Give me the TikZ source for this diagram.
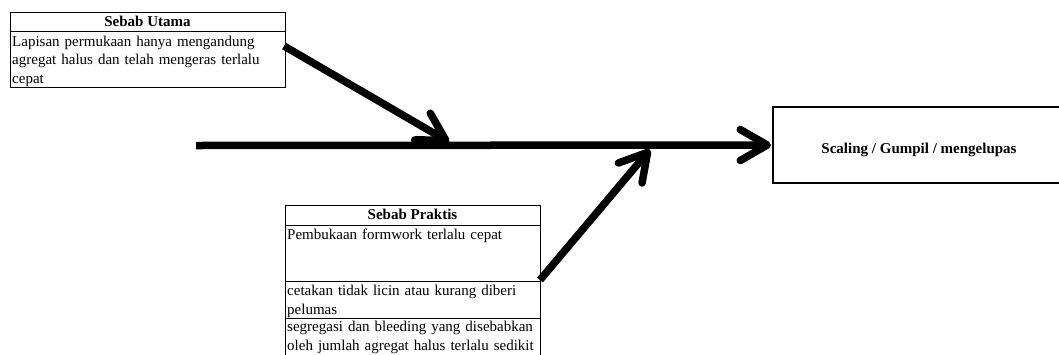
\documentclass[tikz,border=0pt]{standalone}
\usepackage{fontspec}
\setmainfont{Liberation Serif}
\usetikzlibrary{arrows.meta}
\begin{document}
\begin{tikzpicture}[x=1pt,y=-1pt,
  cell/.style={draw, line width=0.9pt, rectangle, anchor=north west, inner sep=0pt, outer sep=0pt},
  txt/.style={anchor=base west, inner sep=0pt, align=left, text width=250pt, font=\fontsize{15}{18.4}\selectfont},
  head/.style={anchor=base, inner sep=0pt, font=\fontsize{15}{18.4}\selectfont\bfseries},
  bone/.style={line width=7.5pt, -{Straight Barb[length=27pt,width=31pt,round]}},
]
\useasboundingbox (0,0) rectangle (1059,354);
\clip (0,0) rectangle (1059,354);

% Sebab Utama
\node[cell, minimum width=275pt, minimum height=19pt] (uh) at (10,12) {};
\node[cell, minimum width=275pt, minimum height=56pt] (ub) at (10,31) {};
\node[head] (uht) at (147.5,26.7) {Sebab Utama};
\node[txt] (ubt) at (12,46.5) {Lapisan permukaan hanya mengandung\\agregat halus dan telah mengeras terlalu\\cepat};

% Sebab Praktis
\node[cell, minimum width=255pt, minimum height=20pt] (ph) at (285,205) {};
\node[cell, minimum width=255pt, minimum height=56pt] (p1) at (285,225) {};
\node[cell, minimum width=255pt, minimum height=37pt] (p2) at (285,281) {};
\node[cell, minimum width=255pt, minimum height=60pt] (p3) at (285,318) {};
\node[head] (pht) at (412.5,219) {Sebab Praktis};
\node[txt] (p1t) at (287,239.3) {Pembukaan formwork terlalu cepat};
\node[txt] (p2t) at (287,295.7) {cetakan tidak licin atau kurang diberi\\pelumas};
\node[txt] (p3t) at (287,331.7) {segregasi dan bleeding yang disebabkan\\oleh jumlah agregat halus terlalu sedikit};

% Akibat
\node[cell, line width=1.6pt, minimum width=293pt, minimum height=76pt] (cons) at (773,107) {};
\node[head] (const) at (919,153) {Scaling / Gumpil / mengelupas};

% Tulang ikan
\coordinate (tail) at (196,145.5);
\draw[bone, line cap=butt, shorten >=2pt] (tail) -- (cons.west);
\coordinate (ustart) at (284,46);
\coordinate (uend) at (449,142);
\draw[bone] (ustart) -- (uend);
\coordinate (pstart) at (540,280);
\coordinate (pend) at (650,149.5);
\draw[bone] (pstart) -- (pend);
\end{tikzpicture}
\end{document}
